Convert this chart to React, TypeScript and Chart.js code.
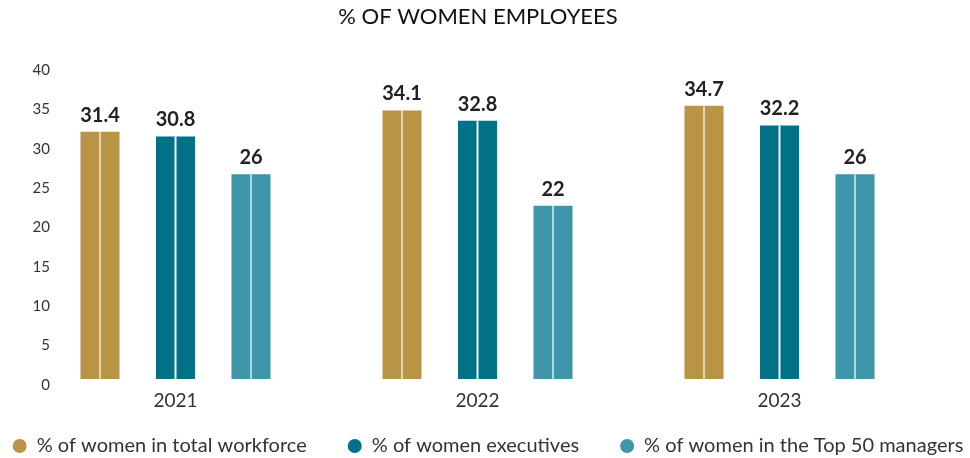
import React, { useEffect, useRef } from "react";
import { Chart, registerables } from "chart.js";

Chart.register(...registerables);

const titleText = "% OF WOMEN EMPLOYEES";
const categories = ["2021", "2022", "2023"];
const seriesLabels = [
  "% of women in total workforce",
  "% of women executives",
  "% of women in the Top 50 managers",
];
const totalWorkforce = [31.4, 34.1, 34.7];
const executives = [30.8, 32.8, 32.2];
const top50Managers = [26, 22, 26];
const yTickValues = [0, 5, 10, 15, 20, 25, 30, 35, 40];

const seriesColors = ["#B99446", "#007187", "#3F96AA"];
const stripeColors = [
  "rgba(255,255,255,0.6)",
  "rgba(255,255,255,0.95)",
  "rgba(255,255,255,0.6)",
];
const FONT = "Lato, 'Noto Sans', sans-serif";

const barDecorPlugin = {
  id: "barDecor",
  afterDatasetsDraw(chart: any) {
    const ctx = chart.ctx;
    ctx.save();
    chart.data.datasets.forEach((ds: any, di: number) => {
      const meta = chart.getDatasetMeta(di);
      meta.data.forEach((el: any, i: number) => {
        const { x, y, base } = el.getProps(["x", "y", "base"], true);
        ctx.strokeStyle = stripeColors[di];
        ctx.lineWidth = 2;
        ctx.beginPath();
        ctx.moveTo(x, y);
        ctx.lineTo(x, base);
        ctx.stroke();
        ctx.fillStyle = "#222";
        ctx.font = `bold 20px ${FONT}`;
        ctx.textAlign = "center";
        ctx.textBaseline = "alphabetic";
        ctx.fillText(String(ds.data[i]), x, y - 10);
      });
    });
    ctx.restore();
  },
};

const customLegendPlugin = {
  id: "customLegend",
  afterDraw(chart: any) {
    const ctx = chart.ctx;
    ctx.save();
    ctx.font = `20px ${FONT}`;
    ctx.textBaseline = "middle";
    ctx.textAlign = "left";
    const r = 7;
    const textOffset = 17;
    const gap = 41;
    const items = chart.data.datasets.map((ds: any) => ({
      label: ds.label,
      color: ds.backgroundColor,
      w: ctx.measureText(ds.label).width,
    }));
    const total =
      items.reduce((s: number, it: any) => s + r + textOffset + it.w, 0) +
      gap * (items.length - 1);
    let x = 488 - total / 2;
    const cy = chart.height - 12;
    items.forEach((it: any) => {
      const cx = x + r;
      ctx.fillStyle = it.color;
      ctx.beginPath();
      ctx.arc(cx, cy, r, 0, Math.PI * 2);
      ctx.fill();
      ctx.fillStyle = "#333";
      ctx.fillText(it.label, cx + textOffset, cy);
      x = cx + textOffset + it.w + gap;
    });
    ctx.restore();
  },
};

export default function App() {
  const canvasRef = useRef<HTMLCanvasElement | null>(null);

  useEffect(() => {
    if (!canvasRef.current) return;
    const chart = new Chart(canvasRef.current, {
      type: "bar",
      data: {
        labels: categories,
        datasets: [totalWorkforce, executives, top50Managers].map((d, i) => ({
          label: seriesLabels[i],
          data: d,
          backgroundColor: seriesColors[i],
          categoryPercentage: 0.75,
          barPercentage: 0.517,
          yAxisID: "y",
        })),
      },
      options: {
        animation: false,
        responsive: false,
        devicePixelRatio: 1,
        layout: { padding: { left: 0, right: 14, top: 0, bottom: 43 } },
        plugins: {
          legend: { display: false },
          tooltip: { enabled: false },
          title: {
            display: true,
            text: titleText,
            color: "#111",
            font: { family: FONT, size: 22, weight: "normal" },
            padding: { top: 4, bottom: 33.6 },
          },
        },
        scales: {
          x: {
            grid: { display: false, drawTicks: false },
            border: { display: false },
            ticks: { color: "#333", font: { family: FONT, size: 19 }, padding: 10 },
            afterFit: (s: any) => {
              s.height = 36;
            },
          },
          y: {
            position: "left",
            min: 0,
            max: 40,
            afterBuildTicks: (s: any) => {
              s.ticks = yTickValues.map((v) => ({ value: v }));
            },
            grid: { display: false, drawTicks: false },
            border: { display: false },
            ticks: {
              mirror: true,
              crossAlign: "far",
              padding: 8,
              labelOffset: 6,
              color: "#333",
              font: { family: FONT, size: 15 },
            },
            afterFit: (s: any) => {
              s.width = 24.5;
            },
          },
          y2: {
            position: "right",
            display: true,
            grid: { display: false, drawTicks: false },
            border: { display: false },
            ticks: { display: false },
            afterFit: (s: any) => {
              s.width = 25.5;
            },
          },
        },
      } as any,
      plugins: [barDecorPlugin, customLegendPlugin],
    });
    return () => chart.destroy();
  }, []);

  return (
    <div style={{ position: "absolute", left: 0, top: 0, width: 970, height: 458 }}>
      <canvas ref={canvasRef} width={970} height={458} style={{ display: "block" }} />
    </div>
  );
}
